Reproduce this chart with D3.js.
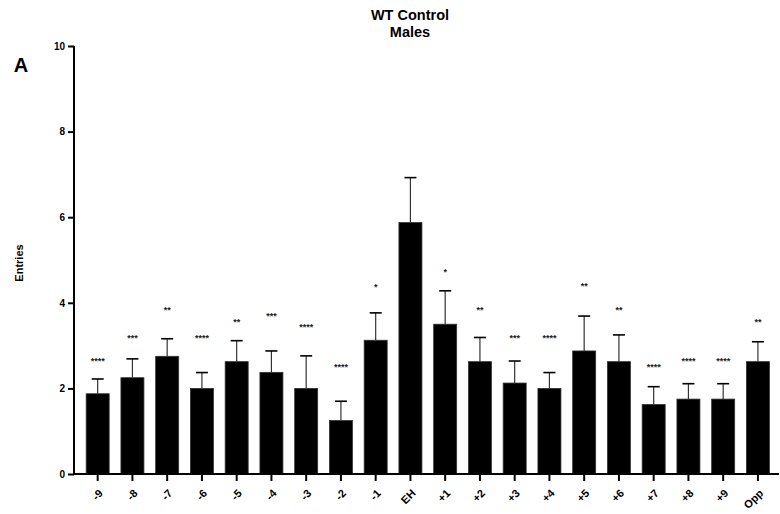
<!DOCTYPE html>
<html>
<head>
<meta charset="utf-8">
<script src="https://cdn.jsdelivr.net/npm/d3@7"></script>
<style>
  html, body { margin: 0; padding: 0; background: #fff; }
  svg { display: block; font-family: Arial, "Liberation Sans", Helvetica, sans-serif; }
</style>
</head>
<body>
<svg id="chart" width="780" height="514"></svg>
<script>
const categories = ["-9","-8","-7","-6","-5","-4","-3","-2","-1","EH","+1","+2","+3","+4","+5","+6","+7","+8","+9","Opp"];
const means = [1.875, 2.25, 2.75, 2.0, 2.625, 2.375, 2.0, 1.25, 3.125, 5.875, 3.5, 2.625, 2.125, 2.0, 2.875, 2.625, 1.625, 1.75, 1.75, 2.625];
const sems = [0.345, 0.44, 0.41, 0.37, 0.49, 0.50, 0.76, 0.45, 0.64, 1.05, 0.78, 0.565, 0.515, 0.37, 0.815, 0.625, 0.415, 0.36, 0.36, 0.465];
const sigLabels = ["****","***","**","****","**","***","****","****","*","","*","**","***","****","**","**","****","****","****","**"];
const sigHeights = [2.69, 3.23, 3.89, 3.23, 3.60, 3.74, 3.47, 2.55, 4.42, 0, 4.77, 3.89, 3.22, 3.22, 4.43, 3.88, 2.55, 2.69, 2.69, 3.60];
const yTicks = [0, 2, 4, 6, 8, 10];
const titleLines = ["WT Control", "Males"];
const yLabel = "Entries";
const panelLetter = "A";

const svg = d3.select("#chart");
const data = categories.map((c, i) => ({ cat: c, mean: means[i], sem: sems[i], sig: sigLabels[i], sigY: sigHeights[i] }));

const x = d3.scaleBand().domain(categories).range([80.3, 775.3]).paddingInner(0.338).paddingOuter(0.169);
const y = d3.scaleLinear().domain([0, 10]).range([474, 46]);

// bars
svg.append("g").selectAll("rect").data(data).join("rect")
  .attr("x", d => x(d.cat))
  .attr("y", d => y(d.mean))
  .attr("width", x.bandwidth())
  .attr("height", d => y(0) - y(d.mean))
  .attr("fill", "#000")
  .attr("stroke", "#333")
  .attr("stroke-width", 0.8);

// error bars
const eb = svg.append("g");
eb.selectAll("line.v").data(data).join("line")
  .attr("class", "v")
  .attr("x1", d => x(d.cat) + x.bandwidth() / 2)
  .attr("x2", d => x(d.cat) + x.bandwidth() / 2)
  .attr("y1", d => y(d.mean))
  .attr("y2", d => y(d.mean + d.sem))
  .attr("stroke", "#333").attr("stroke-width", 1.2);
eb.selectAll("line.c").data(data).join("line")
  .attr("class", "c")
  .attr("x1", d => x(d.cat) + x.bandwidth() / 2 - 6)
  .attr("x2", d => x(d.cat) + x.bandwidth() / 2 + 6)
  .attr("y1", d => y(d.mean + d.sem))
  .attr("y2", d => y(d.mean + d.sem))
  .attr("stroke", "#000").attr("stroke-width", 1.6);

// significance
svg.append("g").selectAll("text").data(data.filter(d => d.sig)).join("text")
  .attr("x", d => x(d.cat) + x.bandwidth() / 2)
  .attr("y", d => y(d.sigY) + 5)
  .attr("text-anchor", "middle")
  .attr("font-size", 9)
  .attr("font-weight", "bold")
  .attr("fill", "#222")
  .text(d => d.sig);

// y axis
const yAxis = svg.append("g").attr("transform", "translate(74,0)")
  .call(d3.axisLeft(y).tickValues(yTicks).tickSize(6).tickPadding(3).tickFormat(d3.format("d")));
yAxis.select(".domain").attr("stroke-width", 2).attr("d", `M0,${y(10)}V${y(0)}`);
yAxis.selectAll(".tick line").attr("stroke-width", 2);
yAxis.selectAll("text").attr("font-size", 10).attr("font-weight", "bold").attr("fill", "#000")
  .attr("font-family", "Arial, 'Liberation Sans', sans-serif");

// x axis
const xAxis = svg.append("g").attr("transform", `translate(0,${y(0)})`)
  .call(d3.axisBottom(x).tickSize(7).tickSizeOuter(0));
xAxis.select(".domain").attr("stroke-width", 2).attr("d", "M73,0H779");
xAxis.selectAll(".tick line").attr("stroke-width", 2);
xAxis.selectAll("text")
  .attr("font-size", 11).attr("font-weight", "bold").attr("fill", "#000")
  .attr("font-family", "Arial, 'Liberation Sans', sans-serif")
  .attr("text-anchor", "end")
  .attr("dy", null)
  .attr("y", 0)
  .attr("transform", "translate(6,20) rotate(-45)");

// title
svg.append("g").selectAll("text").data(titleLines).join("text")
  .attr("x", 410)
  .attr("y", (d, i) => 19.5 + i * 17.5)
  .attr("text-anchor", "middle")
  .attr("font-size", 14.5)
  .attr("font-weight", "bold")
  .text(d => d);

// y label
svg.append("text")
  .attr("transform", "translate(23,263) rotate(-90)")
  .attr("text-anchor", "middle")
  .attr("font-size", 11)
  .attr("font-weight", "bold")
  .text(yLabel);

// panel letter
svg.append("text")
  .attr("x", 21).attr("y", 72)
  .attr("text-anchor", "middle")
  .attr("font-size", 20)
  .attr("font-weight", "bold")
  .text(panelLetter);
</script>
</body>
</html>
